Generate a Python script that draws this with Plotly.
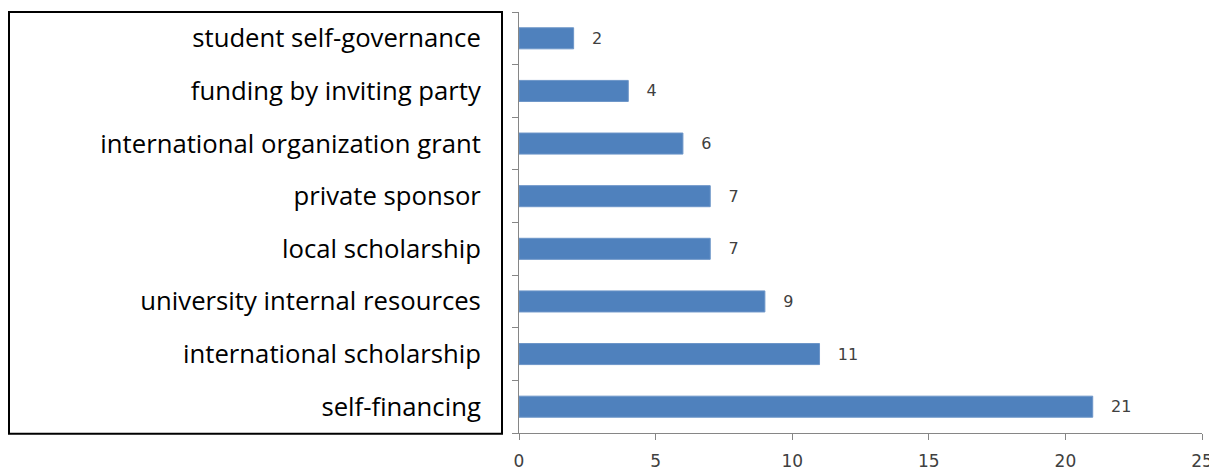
import plotly.graph_objects as go

# data (bottom -> top, as drawn)
sources = [
    "self-financing",
    "international scholarship",
    "university internal resources",
    "local scholarship",
    "private sponsor",
    "international organization grant",
    "funding by inviting party",
    "student self-governance",
]
counts = [21, 11, 9, 7, 7, 6, 4, 2]
x_ticks = [0, 5, 10, 15, 20, 25]

# page body adds 8px, so the figure is laid out in page pixels minus 8
OFF = 8
W, H = 1217 - OFF, 470 - OFF
ML, MR, MT, MB = 519 - OFF, 15, 12 - OFF, 37
BAR = "#4F81BD"
AXIS = "#868686"

fig = go.Figure(go.Bar(
    x=counts, y=sources, orientation="h",
    marker=dict(color=BAR, line=dict(color="#6C95C8", width=1)),
    text=counts, texttemplate="   %{text}", textposition="outside",
    textfont=dict(family="DejaVu Sans", size=16, color="#404040"),
    cliponaxis=False, hoverinfo="x+y",
))

# box around the category labels (page pixels -> paper coords)
pw = W - ML - MR
def px(xp):
    return (xp - OFF - ML) / pw

fig.add_shape(type="rect", xref="paper", yref="paper",
              x0=px(9), x1=px(502), y0=-0.002, y1=1.0,
              line=dict(color="black", width=2), fillcolor="rgba(0,0,0,0)")

fig.update_layout(
    width=W, height=H,
    margin=dict(l=ML, r=MR, t=MT, b=MB),
    paper_bgcolor="white", plot_bgcolor="white",
    bargap=0.6, showlegend=False,
    xaxis=dict(range=[0, 25], tickvals=x_ticks, showgrid=False,
               zeroline=False, showline=True, linecolor=AXIS, linewidth=1,
               ticks="outside", ticklen=6, tickcolor=AXIS,
               ticklabelstandoff=7, automargin=False,
               tickfont=dict(family="DejaVu Sans", size=17, color="#404040")),
    yaxis=dict(showgrid=False, zeroline=False, showline=True,
               linecolor=AXIS, linewidth=1, ticks="outside", ticklen=6,
               tickcolor=AXIS, tickson="boundaries", ticklabelstandoff=32,
               automargin=False,
               tickfont=dict(family="Open Sans", size=25.7, color="black")),
)

fig.write_html("out.html")
